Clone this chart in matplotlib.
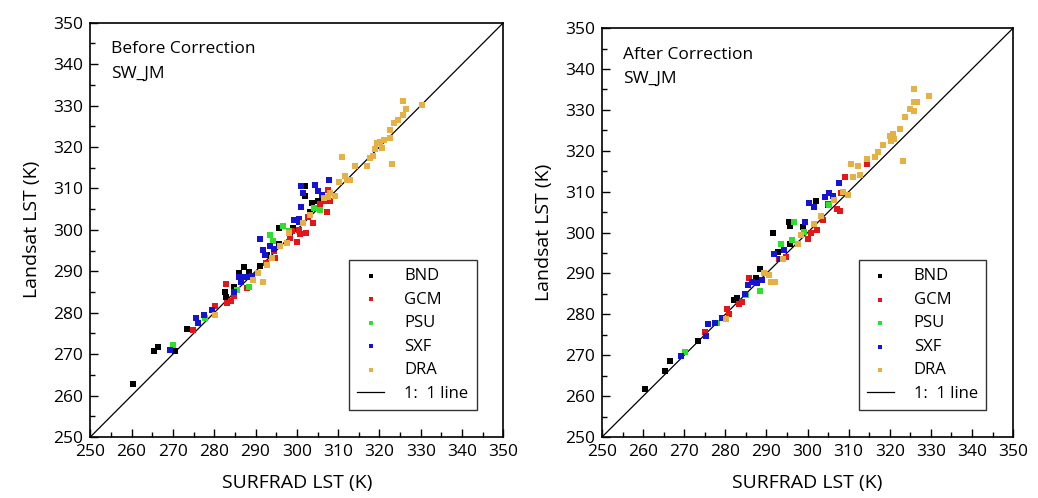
import matplotlib
matplotlib.use("Agg")
import matplotlib.pyplot as plt
from matplotlib.ticker import MultipleLocator

plt.rcParams['font.family'] = ['Open Sans', 'DejaVu Sans']

# ---- before correction (SURFRAD x, Landsat y) ----
bnd_before_x = [260.3, 265.3, 266.5, 270.4, 273.4, 282.7, 282.9, 284.7, 286.1, 287.3, 288.3, 291.0, 292.7, 295.6, 295.7, 299.0, 302.0, 302.0, 303.6, 303.2, 305.2]
bnd_before_y = [262.7, 270.7, 271.6, 270.8, 276.0, 285.1, 283.7, 286.3, 289.5, 291.0, 289.9, 291.3, 294.0, 300.4, 296.5, 300.4, 310.5, 308.2, 306.5, 304.2, 306.9]
gcm_before_x = [274.8, 280.2, 282.9, 283.1, 284.7, 287.9, 294.8, 294.5, 298.4, 300.0, 300.4, 300.8, 302.3, 302.8, 303.9, 305.6, 307.3, 307.5, 307.9, 306.5, 298.8, 284.0, 292.5]
gcm_before_y = [275.8, 281.6, 286.9, 282.3, 284.0, 285.9, 293.1, 294.8, 298.0, 297.0, 300.0, 299.0, 299.2, 303.2, 301.6, 306.2, 304.2, 309.7, 306.9, 306.9, 299.6, 282.8, 292.0]
psu_before_x = [269.9, 277.8, 285.5, 288.3, 293.4, 296.6, 294.2, 298.2, 305.5, 304.2]
psu_before_y = [272.3, 278.8, 285.5, 286.3, 298.8, 301.0, 297.3, 299.6, 304.8, 305.2]
sxf_before_x = [269.2, 275.6, 276.0, 277.4, 279.4, 284.7, 285.9, 287.1, 288.7, 289.1, 291.1, 291.9, 292.3, 294.4, 299.2, 300.4, 301.0, 301.6, 301.0, 304.4, 305.2, 306.0, 307.7, 300.4, 286.5, 293.5]
sxf_before_y = [271.0, 278.8, 277.4, 279.4, 280.6, 285.1, 288.7, 288.7, 288.5, 288.9, 297.7, 295.2, 294.0, 295.3, 302.4, 302.6, 310.6, 308.9, 305.6, 310.9, 309.3, 308.5, 312.1, 302.0, 287.5, 296.0]
dra_before_x = [280.2, 290.7, 291.9, 292.7, 294.0, 297.6, 298.0, 301.6, 303.2, 306.5, 308.1, 309.3, 310.1, 310.9, 311.7, 312.1, 312.9, 314.1, 316.9, 317.7, 318.5, 319.5, 320.2, 320.6, 322.6, 323.0, 322.6, 323.4, 324.6, 325.8, 325.6, 326.5, 330.2, 319.0, 321.0, 289.5, 296.0, 307.5]
dra_before_y = [279.4, 289.5, 287.5, 291.5, 293.1, 296.8, 299.2, 301.6, 303.6, 307.7, 308.9, 308.1, 311.5, 317.6, 313.0, 312.1, 312.1, 315.3, 315.5, 317.3, 317.7, 321.0, 321.1, 319.8, 322.2, 316.0, 324.2, 325.8, 326.6, 327.8, 331.0, 329.2, 330.2, 319.4, 321.8, 288.0, 296.0, 308.0]

# ---- after correction ----
bnd_after_x = [260.4, 265.3, 266.5, 273.3, 282.1, 282.9, 287.4, 288.4, 291.7, 292.7, 295.5, 295.7, 295.8, 299.0, 302.0, 305.0]
bnd_after_y = [261.8, 266.2, 268.5, 273.5, 283.5, 284.0, 288.9, 291.1, 299.9, 295.3, 302.6, 301.5, 297.2, 301.4, 307.6, 306.8]
gcm_after_x = [275.0, 280.5, 281.0, 283.2, 285.8, 294.7, 300.2, 300.8, 302.4, 303.7, 307.2, 308.0, 309.2, 314.4, 308.1, 305.0, 284.0, 293.0]
gcm_after_y = [275.6, 281.2, 280.0, 282.5, 288.8, 294.1, 298.5, 299.8, 300.7, 303.0, 305.7, 305.2, 313.7, 316.8, 309.7, 307.0, 283.0, 293.5]
psu_after_x = [270.3, 278.0, 288.4, 293.5, 296.6, 296.3, 305.3, 299.2, 285.0]
psu_after_y = [270.9, 277.8, 285.8, 297.2, 302.6, 298.1, 306.7, 300.2, 284.8]
sxf_after_x = [269.1, 275.4, 275.8, 277.6, 279.3, 284.7, 285.4, 286.6, 287.8, 291.9, 294.3, 299.4, 300.4, 301.6, 304.2, 305.3, 307.7, 306.3, 288.8, 293.3]
sxf_after_y = [269.8, 274.6, 277.6, 278.0, 279.0, 285.0, 287.2, 288.0, 287.6, 294.7, 295.7, 302.6, 307.2, 306.3, 308.7, 309.7, 312.2, 309.0, 288.5, 293.5]
dra_after_x = [280.1, 290.7, 291.1, 292.0, 294.0, 297.6, 298.5, 301.6, 303.2, 306.5, 309.8, 310.6, 311.0, 312.2, 312.8, 314.5, 316.4, 317.1, 318.3, 320.0, 320.7, 320.3, 321.0, 322.6, 323.3, 323.6, 324.8, 325.8, 326.0, 326.7, 325.8, 329.5, 308.5, 289.5]
dra_after_y = [278.9, 289.6, 287.8, 287.8, 293.5, 297.3, 299.5, 302.2, 304.0, 307.9, 309.1, 316.8, 313.6, 316.2, 314.2, 318.0, 318.5, 319.7, 321.3, 323.7, 324.1, 322.5, 323.0, 325.4, 317.6, 328.2, 330.2, 331.9, 329.8, 332.0, 335.1, 333.3, 310.0, 290.0]

stations = ["BND", "GCM", "PSU", "SXF", "DRA"]
colors = ["#000000", "#e3161c", "#2ee02e", "#1414d2", "#e5b142"]
panel_titles = ["Before Correction", "After Correction"]
method = "SW_JM"

before = [(bnd_before_x, bnd_before_y), (gcm_before_x, gcm_before_y), (psu_before_x, psu_before_y),
          (sxf_before_x, sxf_before_y), (dra_before_x, dra_before_y)]
after = [(bnd_after_x, bnd_after_y), (gcm_after_x, gcm_after_y), (psu_after_x, psu_after_y),
         (sxf_after_x, sxf_after_y), (dra_after_x, dra_after_y)]

fig = plt.figure(figsize=(10.38, 4.98), dpi=100)
ax1 = fig.add_axes([0.087, 0.1225, 0.398, 0.832])
ax2 = fig.add_axes([0.580, 0.1225, 0.396, 0.821])

for ax, data, title in zip([ax1, ax2], [before, after], panel_titles):
    for (xs, ys), name, c in zip(data, stations, colors):
        ax.scatter(xs, ys, marker="s", s=15, color=c, linewidths=0, label=name, zorder=3)
    ax.plot([250, 350], [250, 350], color="black", lw=0.9, label="1:  1 line", zorder=2)
    ax.set_xlim(250, 350)
    ax.set_ylim(250, 350)
    ax.xaxis.set_major_locator(MultipleLocator(10))
    ax.yaxis.set_major_locator(MultipleLocator(10))
    ax.xaxis.set_minor_locator(MultipleLocator(5))
    ax.yaxis.set_minor_locator(MultipleLocator(5))
    ax.tick_params(which="major", direction="in", length=6, width=1, labelsize=12.5, pad=5)
    ax.tick_params(which="minor", direction="in", length=3.5, width=1)
    for sp in ax.spines.values():
        sp.set_linewidth(1.2)
    ax.set_xlabel("SURFRAD LST (K)", fontsize=14, labelpad=10)
    ax.set_ylabel("Landsat LST (K)", fontsize=14, labelpad=9)
    ax.text(0.05, 0.955, title, transform=ax.transAxes, fontsize=12.5, va="top")
    ax.text(0.05, 0.895, method, transform=ax.transAxes, fontsize=12.5, va="top")
    leg = ax.legend(loc="lower right", bbox_to_anchor=(0.955, 0.045), fontsize=12,
                    frameon=True, fancybox=False, markerscale=0.8, handlelength=1.6,
                    borderpad=0.5, labelspacing=0.45, handletextpad=1.2)
    leg.get_frame().set_edgecolor("black")
    leg.get_frame().set_linewidth(1.0)

fig.savefig("out.png", dpi=100)
